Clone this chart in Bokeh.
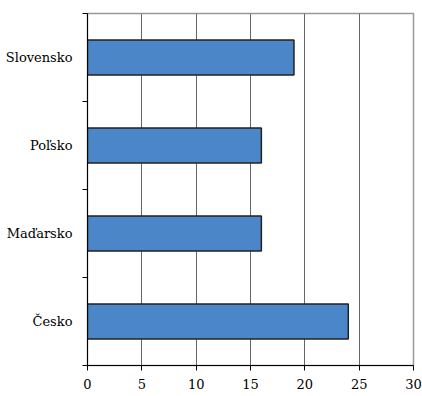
from bokeh.plotting import figure
from bokeh.models import FixedTicker, Range1d, ColumnDataSource
from bokeh.embed import file_html
from bokeh.resources import INLINE

countries = ["Česko", "Maďarsko", "Poľsko", "Slovensko"]
values = [24, 16, 16, 19]
x_ticks = [0, 5, 10, 15, 20, 25, 30]

pos = [i + 0.5 for i in range(len(countries))]
src = ColumnDataSource(dict(y=pos, v=values, name=countries))

p = figure(width=422, height=396, output_backend="svg", toolbar_location=None,
           x_range=Range1d(0, 30), y_range=Range1d(0, len(countries)),
           min_border_left=87, min_border_right=9, min_border_top=13, min_border_bottom=31)

p.hbar(y="y", right="v", left=0, height=0.4, source=src,
       fill_color="#4a86c8", line_color="#222222", line_width=1.5)

serif = "DejaVu Serif"
p.xaxis.ticker = FixedTicker(ticks=x_ticks)
p.xaxis.axis_line_color = "black"
p.xaxis.major_tick_line_color = "black"
p.xaxis.major_tick_in = 0
p.xaxis.major_tick_out = 5
p.xaxis.minor_tick_line_color = None
p.xaxis.major_label_text_font = serif
p.xaxis.major_label_text_font_style = "normal"
p.xaxis.major_label_text_font_size = "13px"
p.xaxis.major_label_text_color = "black"
p.xaxis.major_label_standoff = 8

p.yaxis.ticker = FixedTicker(ticks=pos, minor_ticks=list(range(len(countries) + 1)))
p.yaxis.major_label_overrides = {pp: c for pp, c in zip(pos, countries)}
p.yaxis.axis_line_color = "black"
p.yaxis.major_tick_line_color = None
p.yaxis.major_tick_in = 0
p.yaxis.major_tick_out = 0
p.yaxis.minor_tick_line_color = "black"
p.yaxis.minor_tick_in = 0
p.yaxis.minor_tick_out = 5
p.yaxis.major_label_text_font = serif
p.yaxis.major_label_text_font_style = "normal"
p.yaxis.major_label_text_font_size = "13px"
p.yaxis.major_label_text_color = "black"
p.yaxis.major_label_standoff = 10

p.xgrid.grid_line_color = "#666666"
p.xgrid.grid_line_width = 1
p.ygrid.grid_line_color = None
p.outline_line_color = "#999999"
p.outline_line_width = 1.5
p.background_fill_color = "white"
p.border_fill_color = "white"

open("out.html", "w").write(file_html(p, INLINE))
